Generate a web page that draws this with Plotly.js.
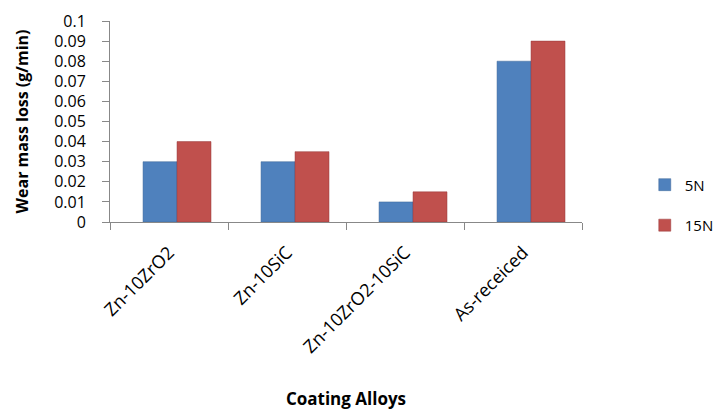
<!DOCTYPE html>
<html>
<head>
<meta charset="utf-8">
<script src="https://cdn.plot.ly/plotly-3.0.1.min.js"></script>
<style>html,body{margin:0;padding:0;background:#fff;}#chart{width:722px;height:410px;}</style>
</head>
<body>
<div id="chart"></div>
<script>
const categories = ["Zn-10ZrO2", "Zn-10SiC", "Zn-10ZrO2-10SiC", "As-receiced"];
const series5N = [0.03, 0.03, 0.01, 0.08];
const series15N = [0.04, 0.035, 0.015, 0.09];
const yTicks = [0, 0.01, 0.02, 0.03, 0.04, 0.05, 0.06, 0.07, 0.08, 0.09, 0.1];

const fontFam = "Open Sans, Liberation Sans, sans-serif";

const traces = [
  {type: "bar", name: "5N", x: categories, y: series5N, legendgroup: "a",
   offset: -0.22, width: 0.288,
   marker: {color: "#4f81bd", line: {color: "#3c6696", width: 0.5}}},
  {type: "bar", name: "15N", x: categories, y: series15N, legendgroup: "b",
   offset: 0.068, width: 0.288,
   marker: {color: "#c0504d", line: {color: "#96393a", width: 0.5}}}
];

const layout = {
  width: 722, height: 410,
  margin: {l: 110, r: 140, t: 21, b: 188, autoexpand: false},
  paper_bgcolor: "#fff", plot_bgcolor: "#fff",
  barmode: "group",
  font: {family: fontFam, size: 14, color: "#000"},
  xaxis: {
    showline: true, linecolor: "#888", linewidth: 1,
    ticks: "outside", ticklen: 7, tickcolor: "#888",
    tickson: "boundaries",
    tickangle: -45, tickfont: {size: 18, color: "#000", family: fontFam},
    ticklabelstandoff: 12,
    showgrid: false, automargin: false,
    title: {text: "<b>Coating Alloys</b>", font: {size: 17, family: fontFam}, standoff: 52}
  },
  yaxis: {
    range: [0, 0.1], tickvals: yTicks, ticktext: yTicks.map(String),
    showline: true, linecolor: "#888", linewidth: 1,
    ticks: "outside", ticklen: 7, tickcolor: "#888",
    showgrid: false, zeroline: false, automargin: false,
    tickfont: {size: 16, color: "#000", family: fontFam},
    ticklabelstandoff: 13,
    title: {text: "<b>Wear mass loss (g/min)</b>", font: {size: 16, family: fontFam}, standoff: 21}
  },
  legend: {x: 1.133, y: 0.085, xanchor: "left", yanchor: "middle",
           traceorder: "grouped",
           font: {size: 15, family: fontFam}, tracegroupgap: 18, itemwidth: 30},
  showlegend: true
};

Plotly.newPlot("chart", traces, layout, {displayModeBar: false, staticPlot: true});
</script>
</body>
</html>
